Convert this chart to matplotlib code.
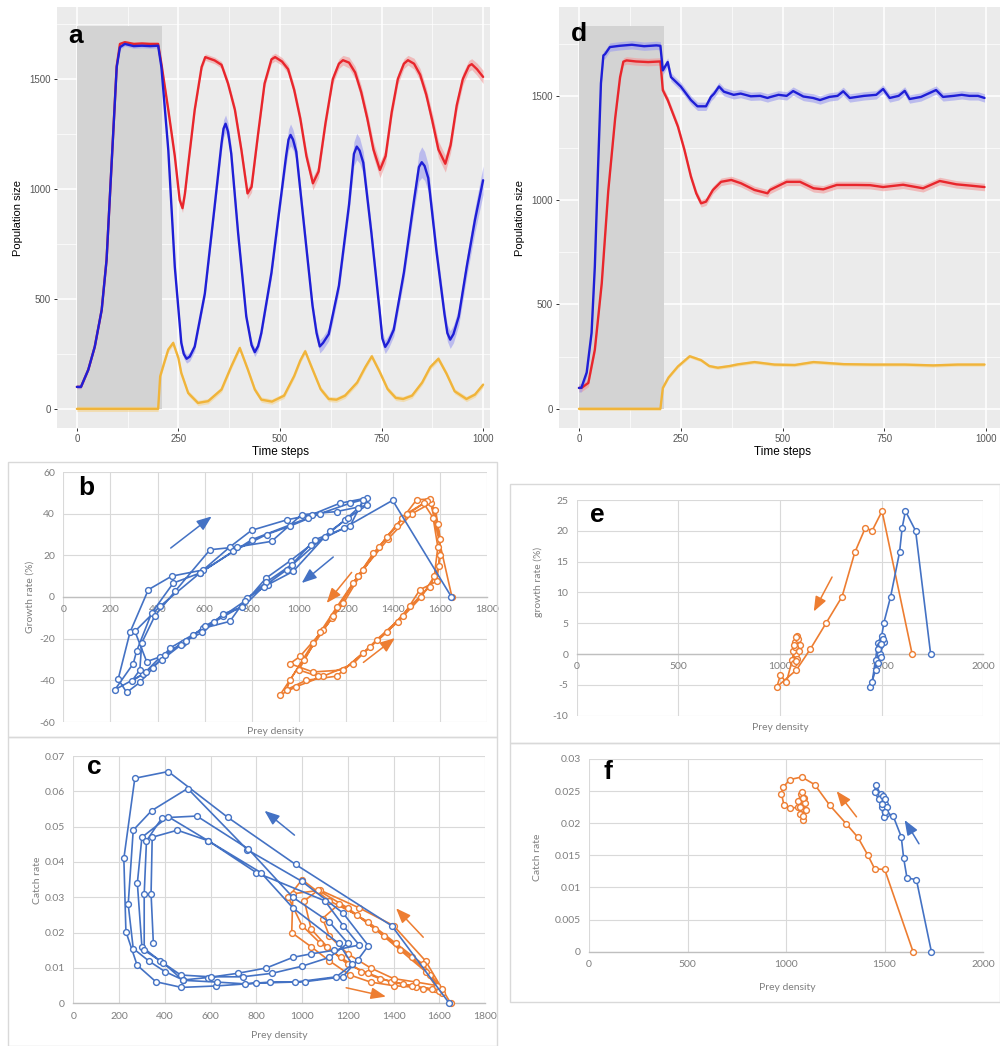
import matplotlib
matplotlib.use("Agg")
import matplotlib.pyplot as plt
from matplotlib.patches import Rectangle
import numpy as np

W, H = 1000, 1046

# ---------------- time series, panel a (oscillating) ----------------
a_t_blue = [0, 10, 28, 44, 61, 73, 85, 98, 106, 118, 140, 160, 180, 200, 208, 225, 241, 257, 263, 270,
            278, 290, 315, 339, 356, 361, 366, 372, 380, 397, 417, 430, 438, 446, 454, 479, 500, 515,
            521, 526, 532, 540, 560, 580, 590, 598, 606, 620, 645, 670, 682, 689, 696, 705, 725, 745,
            752, 759, 767, 780, 805, 830, 842, 849, 856, 865, 885, 905, 912, 919, 927, 940, 960, 980,
            1000]
a_blue = [100, 100, 178, 283, 450, 677, 1100, 1555, 1645, 1660, 1650, 1652, 1650, 1652, 1555, 1177,
          646, 300, 250, 228, 238, 283, 525, 920, 1207, 1275, 1297, 1262, 1160, 797, 420, 290, 258,
          285, 345, 620, 930, 1150, 1225, 1246, 1225, 1170, 820, 470, 345, 284, 300, 340, 560, 930,
          1160, 1193, 1175, 1120, 800, 450, 320, 282, 305, 360, 620, 950, 1100, 1122, 1105, 1050,
          720, 430, 345, 315, 340, 420, 650, 860, 1040]
a_blue_sd = [8, 8, 8, 8, 8, 8, 10, 10, 10, 10, 10, 10, 10, 10, 15, 20, 20, 20, 20, 20, 20, 20, 20,
             25, 35, 40, 40, 38, 35, 25, 20, 20, 20, 20, 20, 25, 30, 40, 48, 50, 46, 40, 30, 25, 28,
             30, 30, 30, 30, 40, 55, 60, 58, 50, 35, 30, 30, 30, 30, 30, 35, 45, 65, 70, 66, 60, 40,
             35, 38, 40, 40, 40, 45, 55, 65]

a_t_red = [0, 10, 28, 44, 61, 73, 85, 98, 106, 118, 140, 160, 180, 200, 208, 225, 241, 253, 260, 266,
           274, 290, 307, 316, 339, 356, 372, 389, 405, 420, 430, 446, 462, 479, 488, 505, 520, 535,
           550, 565, 581, 595, 612, 630, 645, 655, 670, 685, 700, 715, 730, 746, 760, 775, 790, 805,
           815, 830, 845, 860, 875, 890, 907, 920, 935, 950, 965, 972, 985, 1000]
a_red = [100, 100, 178, 283, 450, 677, 1100, 1560, 1660, 1668, 1660, 1662, 1660, 1660, 1570, 1360,
         1150, 950, 913, 980, 1110, 1360, 1555, 1600, 1585, 1565, 1480, 1360, 1177, 980, 1010, 1250,
         1480, 1590, 1600, 1580, 1545, 1450, 1320, 1150, 1026, 1080, 1300, 1500, 1570, 1586, 1575,
         1530, 1440, 1320, 1180, 1087, 1150, 1350, 1500, 1570, 1586, 1570, 1520, 1430, 1310, 1180,
         1115, 1200, 1380, 1500, 1560, 1568, 1545, 1510]
a_red_sd = [8] * 14 + [12, 15, 15, 18, 20, 20, 18, 15, 15, 15, 15, 15, 18, 20, 22, 25, 25, 20, 18,
                       18, 18, 18, 20, 22, 25, 28, 30, 28, 25, 22, 22, 22, 25, 28, 30, 32, 35, 35,
                       32, 28, 25, 22, 22, 25, 28, 30, 35, 38, 38, 35, 30, 28, 25, 25, 28, 30]

a_t_orange = [0, 200, 205, 215, 225, 237, 250, 257, 274, 298, 323, 356, 380, 401, 421, 438, 454,
              480, 510, 535, 550, 562, 580, 600, 620, 639, 660, 690, 710, 726, 745, 765, 785, 803,
              825, 850, 870, 890, 910, 930, 959, 980, 1000]
a_orange = [0, 0, 148, 210, 270, 300, 230, 163, 72, 27, 35, 88, 193, 277, 178, 88, 42, 33, 60, 150,
            220, 262, 180, 90, 45, 42, 60, 120, 190, 239, 170, 90, 50, 45, 60, 120, 190, 228, 160,
            80, 45, 65, 110]

# ---------------- time series, panel d (stable) ----------------
d_t_blue = [0, 6, 19, 31, 39, 47, 54, 60, 64, 76, 100, 130, 160, 190, 200, 206, 218, 226, 250, 275,
            291, 312, 324, 332, 344, 356, 380, 397, 422, 445, 463, 469, 490, 510, 526, 551, 575, 592,
            615, 635, 649, 665, 700, 730, 747, 763, 785, 800, 812, 840, 877, 894, 920, 940, 959, 980,
            996]
d_blue = [100, 101, 174, 364, 682, 1160, 1560, 1694, 1700, 1734, 1740, 1745, 1738, 1742, 1740, 1622,
          1662, 1590, 1545, 1480, 1450, 1450, 1495, 1511, 1545, 1520, 1505, 1511, 1498, 1500, 1490,
          1494, 1505, 1500, 1523, 1497, 1490, 1480, 1495, 1500, 1522, 1490, 1500, 1505, 1533, 1490,
          1500, 1524, 1485, 1495, 1528, 1495, 1500, 1505, 1500, 1500, 1490]

d_t_red = [0, 6, 23, 39, 56, 72, 89, 101, 109, 117, 140, 170, 200, 206, 218, 243, 259, 275, 288, 300,
           312, 329, 349, 374, 398, 431, 463, 469, 510, 543, 576, 600, 633, 680, 715, 747, 796, 845,
           886, 927, 960, 996]
d_red = [100, 100, 124, 283, 602, 1045, 1394, 1590, 1664, 1670, 1665, 1662, 1665, 1527, 1480, 1353,
         1241, 1113, 1033, 985, 993, 1049, 1088, 1097, 1081, 1049, 1033, 1049, 1088, 1088, 1057,
         1052, 1073, 1073, 1072, 1063, 1074, 1057, 1092, 1076, 1070, 1063]

d_t_orange = [0, 200, 206, 220, 243, 272, 300, 320, 341, 370, 390, 431, 480, 530, 576, 650, 720, 800,
              870, 930, 996]
d_orange = [0, 0, 100, 150, 203, 252, 233, 205, 197, 205, 213, 224, 212, 210, 224, 214, 212, 212,
            208, 212, 212]

HARVEST_END = 210
TIME_TICKS = [0, 250, 500, 750, 1000]
POP_TICKS = [0, 500, 1000, 1500]

# ---------------- panel b: growth rate vs prey density ----------------
b_blue_x = [1648, 1398, 1190, 1050, 965, 860, 757, 640, 552, 453, 382, 325, 269, 233, 283, 361, 460,
            594, 707, 799, 948, 1054, 1174, 1288, 1252, 1196, 1111, 976, 870, 778, 707, 594, 509,
            410, 340, 219, 297, 311, 375, 467, 580, 722, 863, 962, 1090, 1217, 1274, 1217, 1068,
            969, 860, 770, 680, 600, 500, 420, 350, 290, 325, 333, 389, 474, 623, 736, 884, 1012,
            1160, 1288, 1210, 1132, 948, 850, 760, 680, 590, 520, 430, 354, 304, 410, 580, 800, 1040]
b_blue_y = [0, 46.4, 33, 25, 17.5, 9, -4.5, -12, -18, -24.5, -34, -41, -45.8, -39.4, -17, 3.5, 10,
            13, 24, 32, 37, 39.5, 45, 47.5, 42.7, 37, 29, 12.3, 6, -0.5, -11.7, -15, -22, -29, -37,
            -44.5, -32, -26, -7.7, 6.7, 11.5, 22, 30, 34, 40, 45, 46.7, 34, 27.5, 15.5, 7, -2, -9,
            -14, -23, -30, -36, -40.5, -35, -22, -9, 2.7, 22.7, 24, 26.7, 39.5, 41, 44, 38, 31.5,
            13, 5, -5, -8, -17, -21, -28, -31, -16.5, -4.5, 11.5, 27.5, 38]

b_orange_x = [1650, 1560, 1480, 1380, 1250, 1140, 1020, 920, 990, 1104, 1231, 1330, 1443, 1514,
              1585, 1600, 1590, 1555, 1500, 1415, 1316, 1231, 1146, 1061, 962, 948, 1030, 1160,
              1273, 1373, 1472, 1556, 1595, 1600, 1580, 1545, 1457, 1373, 1274, 1189, 1104, 1005,
              962, 1060, 1189, 1300, 1420, 1520, 1575, 1590, 1570, 1530, 1440, 1340, 1250, 1160,
              1090, 1000, 1080]
b_orange_y = [0, 45, 40, 28, 10, -10, -30, -47, -43, -38, -32, -20.5, -9, 3.5, 7.5, 20, 35, 47,
              46.7, 34, 21, 6.7, -9.3, -22, -40, -44.5, -40, -38, -27, -17, -4.5, 5, 15, 28, 42,
              46, 40, 29, 13, -3, -15.7, -28.5, -32, -36, -35, -24, -12, 0, 10, 24, 38, 45, 38, 24,
              10, -5, -17, -35, -38]

# ---------------- panel c: catch rate vs prey density ----------------
c_blue_x = [1644, 1393, 972, 676, 415, 269, 221, 230, 279, 361, 473, 622, 800, 1011, 1178, 1244,
            1290, 1180, 1000, 760, 500, 342, 262, 240, 262, 330, 400, 480, 589, 720, 844, 960, 1040,
            1140, 1250, 1180, 1100, 800, 590, 415, 300, 280, 300, 380, 470, 600, 740, 870, 1000,
            1120, 1200, 1120, 960, 765, 540, 388, 320, 310, 310, 392, 480, 630, 750, 860, 970, 1150,
            1220, 1160, 960, 820, 590, 455, 345, 340, 350]
c_blue_y = [0, 0.0219, 0.0393, 0.0526, 0.0656, 0.0637, 0.041, 0.0203, 0.0108, 0.0061, 0.0045,
            0.0049, 0.0057, 0.0061, 0.0075, 0.0123, 0.0163, 0.0255, 0.0345, 0.0435, 0.0608, 0.0545,
            0.049, 0.028, 0.0155, 0.012, 0.009, 0.0066, 0.0073, 0.0085, 0.01, 0.013, 0.014, 0.015,
            0.0165, 0.022, 0.029, 0.037, 0.046, 0.0528, 0.047, 0.034, 0.016, 0.012, 0.008, 0.0075,
            0.0075, 0.0085, 0.0105, 0.013, 0.017, 0.023, 0.03, 0.0437, 0.053, 0.0525, 0.046, 0.031,
            0.015, 0.0115, 0.0065, 0.006, 0.0055, 0.006, 0.006, 0.0075, 0.011, 0.017, 0.027, 0.037,
            0.046, 0.049, 0.047, 0.031, 0.017]

c_orange_x = [1650, 1540, 1400, 1250, 1080, 960, 955, 1040, 1120, 1210, 1300, 1400, 1500, 1580,
              1610, 1560, 1480, 1360, 1240, 1120, 1000, 940, 1000, 1080, 1170, 1260, 1340, 1440,
              1530, 1600, 1540, 1430, 1320, 1200, 1070, 1010, 1040, 1110, 1200, 1290, 1390, 1480,
              1570, 1610, 1530, 1410, 1290, 1160, 1090, 1120, 1200, 1300, 1400, 1500, 1590]
c_orange_y = [0, 0.012, 0.022, 0.027, 0.032, 0.031, 0.02, 0.016, 0.012, 0.008, 0.006, 0.005, 0.0045,
              0.004, 0.003, 0.008, 0.013, 0.019, 0.025, 0.029, 0.035, 0.03, 0.022, 0.017, 0.013,
              0.009, 0.007, 0.0055, 0.004, 0.0035, 0.009, 0.015, 0.021, 0.027, 0.032, 0.029, 0.021,
              0.016, 0.011, 0.0085, 0.006, 0.005, 0.004, 0.004, 0.011, 0.017, 0.023, 0.028, 0.024,
              0.019, 0.014, 0.01, 0.007, 0.006, 0.005]

# ---------------- panel e: growth rate vs prey density (stable) ----------------
e_orange_x = [1650, 1502, 1453, 1420, 1368, 1305, 1228, 1149, 1080, 985, 1002, 1031, 1060, 1075,
              1085, 1095, 1080, 1070, 1065, 1090, 1100, 1085, 1075, 1080, 1092, 1078, 1070]
e_orange_y = [0, 23.2, 20, 20.5, 16.5, 9.3, 5.1, 0.8, -2.6, -5.3, -3.4, -4.6, -1, 2, 3, 1.5, 0,
              -1.5, 0.5, 2.5, 1.5, -0.8, 1.2, 2.8, 0.5, -1.2, 1.5]
e_blue_x = [1741, 1667, 1617, 1601, 1588, 1544, 1511, 1494, 1470, 1445, 1453, 1470, 1480, 1500,
            1510, 1490, 1480, 1492, 1505, 1495, 1482, 1498]
e_blue_y = [0, 20, 23.2, 20.5, 16.5, 9.3, 5.1, 1.7, -2.6, -5.3, -4.5, -1, 1.8, 3, 2, 0, -1.5, 1.5,
            2.5, -0.5, 0.8, 1.7]

# ---------------- panel f: catch rate vs prey density (stable) ----------------
f_orange_x = [1645, 1501, 1450, 1416, 1365, 1306, 1222, 1146, 1080, 1020, 985, 977, 989, 1018, 1060,
              1075, 1090, 1100, 1085, 1070, 1062, 1080, 1095, 1088, 1072, 1085]
f_orange_y = [0, 0.0128, 0.0129, 0.015, 0.0178, 0.0199, 0.0228, 0.026, 0.0272, 0.0268, 0.0256,
              0.0246, 0.0229, 0.0223, 0.0225, 0.0245, 0.024, 0.022, 0.0205, 0.0215, 0.0235, 0.0248,
              0.0232, 0.0212, 0.0225, 0.024]
f_blue_x = [1738, 1662, 1614, 1597, 1585, 1543, 1501, 1480, 1455, 1450, 1470, 1490, 1505, 1510,
            1495, 1485, 1500, 1515, 1500, 1488]
f_blue_y = [0, 0.0112, 0.0115, 0.0146, 0.0179, 0.0212, 0.0217, 0.0245, 0.026, 0.0248, 0.0238,
            0.0242, 0.023, 0.0215, 0.021, 0.0225, 0.0238, 0.0225, 0.0218, 0.023]

# direction arrows: (x_start, y_start, x_end, y_end, colour key)
b_arrows = [(456, 23.5, 630, 38.7, "blue"), (1146, 19.2, 1012, 6.7, "blue"),
            (1224, 11.8, 1118, -2.9, "orange"), (1274, -31.4, 1408, -19.7, "orange")]
c_arrows = [(967, 0.0476, 836, 0.0545, "blue"), (207, 0.009, 393, -0.0002, "blue"),
            (1530, 0.0187, 1411, 0.0269, "orange"), (1193, 0.0044, 1367, 0.0019, "orange")]
e_arrows = [(1256, 12.5, 1166, 6.9, "orange")]
f_arrows = [(1358, 0.021, 1257, 0.025, "orange"), (1675, 0.0168, 1602, 0.0205, "blue")]

GG_RED, GG_BLUE, GG_ORANGE = "#e8262c", "#1f1fd6", "#f0b43a"
XL = {"blue": "#4472c4", "orange": "#ed7d31"}
GG_FONT = "Liberation Sans"
XL_FONT = "Lato"

fig = plt.figure(figsize=(W / 100, H / 100), dpi=100)


def px_axes(l, t, r, b):
    return fig.add_axes([l / W, 1 - b / H, (r - l) / W, (b - t) / H])


def ftext(x, y, s, **kw):
    fig.text(x / W, 1 - y / H, s, **kw)


def gg_panel(box, xlim, ylim, shade_top, series, letter, letter_xy, title_x):
    ax = px_axes(*box)
    ax.set_facecolor("#ebebeb")
    ax.set_xlim(*xlim)
    ax.set_ylim(*ylim)
    for s in ax.spines.values():
        s.set_visible(False)
    ax.set_xticks(TIME_TICKS)
    ax.set_xticks([125, 375, 625, 875], minor=True)
    ax.set_yticks(POP_TICKS)
    ax.set_yticks([250, 750, 1250, 1750], minor=True)
    ax.grid(True, which="major", color="white", lw=1.1, zorder=0)
    ax.grid(True, which="minor", color="white", lw=0.5, zorder=0)
    ax.set_axisbelow(True)
    ax.tick_params(which="major", length=2.5, width=0.7, color="#333333",
                   labelsize=7, labelcolor="#555555", pad=2)
    ax.tick_params(which="minor", length=0)
    for lab in ax.get_xticklabels() + ax.get_yticklabels():
        lab.set_fontfamily(GG_FONT)
    ax.add_patch(Rectangle((0, 0), HARVEST_END, shade_top, color="#d3d3d3", zorder=1, lw=0))
    for t, v, sd, col, band in series:
        t = np.asarray(t)
        v = np.asarray(v, dtype=float)
        sd = np.asarray(sd, dtype=float)
        ax.fill_between(t, v - sd, v + sd, color=band, alpha=0.6, lw=0, zorder=2)
        ax.plot(t, v, color=col, lw=1.7, zorder=3, solid_joinstyle="round",
                solid_capstyle="round")
    ftext(letter_xy[0], letter_xy[1], letter, fontsize=19, fontweight="bold",
          family=GG_FONT, va="center", ha="left")
    ftext(title_x, 452, "Time steps", fontsize=8.5, family=GG_FONT, ha="center", va="center")
    return ax


# panel a
ax_a = gg_panel((57, 7, 490, 428), (-49, 1017), (-87, 1828), 1741,
                [(a_t_orange, a_orange, [12] * len(a_orange), GG_ORANGE, "#f5d590"),
                 (a_t_red, a_red, a_red_sd, GG_RED, "#f29a9a"),
                 (a_t_blue, a_blue, a_blue_sd, GG_BLUE, "#9c9cf0")],
                "a", (68, 36), 280)
ftext(18, 218, "Population size", rotation=90, fontsize=8, family=GG_FONT, ha="center", va="center")

# panel d
ax_d = gg_panel((559, 7, 1000, 428), (-49, 1034), (-92, 1926), 1834,
                [(d_t_orange, d_orange, [8] * len(d_orange), GG_ORANGE, "#f5d590"),
                 (d_t_red, d_red, [18] * len(d_red), GG_RED, "#f29a9a"),
                 (d_t_blue, d_blue, [20] * len(d_blue), GG_BLUE, "#9c9cf0")],
                "d", (571, 34), 783)
ftext(520, 218, "Population size", rotation=90, fontsize=8, family=GG_FONT, ha="center", va="center")


# ---------------- spreadsheet-style panels ----------------
def xl_panel(box, xlim, ylim, xticks, yticks, ytick_fmt, cross_zero):
    ax = px_axes(*box)
    ax.set_xlim(*xlim)
    ax.set_ylim(*ylim)
    ax.set_xticks(xticks)
    ax.set_yticks(yticks)
    ax.set_yticklabels([ytick_fmt(v) for v in yticks])
    ax.grid(True, color="#d9d9d9", lw=0.8, zorder=0)
    ax.set_axisbelow(True)
    for k in ("top", "right", "left"):
        ax.spines[k].set_visible(False)
    ax.spines["bottom"].set_color("#bfbfbf")
    ax.spines["bottom"].set_linewidth(1.0)
    if cross_zero:
        ax.spines["bottom"].set_position(("data", 0))
    ax.tick_params(length=0, labelsize=7.5, labelcolor="#7f7f7f", pad=6)
    for lab in ax.get_xticklabels() + ax.get_yticklabels():
        lab.set_fontfamily(XL_FONT)
    ax.patch.set_alpha(0)
    return ax


def xl_series(ax, x, y, key):
    ax.plot(x, y, color=XL[key], lw=1.2, marker="o", ms=4.2, mfc="white",
            mec=XL[key], mew=1.0, zorder=3, clip_on=False)


def xl_arrows(ax, arrows):
    for x0, y0, x1, y1, key in arrows:
        ax.annotate("", xy=(x1, y1), xytext=(x0, y0),
                    arrowprops=dict(arrowstyle="-|>,head_length=0.9,head_width=0.35",
                                    color=XL[key], lw=1.1, shrinkA=0, shrinkB=0), zorder=4)


def box_outline(l, t, r, b):
    fig.add_artist(Rectangle((l / W, 1 - b / H), (r - l) / W, (b - t) / H,
                             transform=fig.transFigure, fill=False,
                             edgecolor="#d9d9d9", lw=1.0))


box_outline(8, 462, 497, 737)
box_outline(8, 737, 497, 1046)
box_outline(510, 484, 1000, 743)
box_outline(510, 743, 1000, 1002)

# panel b
ax_b = xl_panel((63.3, 472, 487.3, 722), (0, 1800), (-60, 60), range(0, 1801, 200),
                range(-60, 61, 20), lambda v: f"{v}", True)
xl_series(ax_b, b_orange_x, b_orange_y, "orange")
xl_series(ax_b, b_blue_x, b_blue_y, "blue")
xl_arrows(ax_b, b_arrows)
ftext(78, 488, "b", fontsize=19, fontweight="bold", family=GG_FONT, va="center")
ftext(275, 731, "Prey density", fontsize=7.5, color="#7f7f7f", family=XL_FONT, ha="center", va="center")
ftext(30, 597, "Growth rate (%)", rotation=90, fontsize=7.5, color="#7f7f7f", family=XL_FONT,
      ha="center", va="center")

# panel c
ax_c = xl_panel((73.3, 756, 485, 1003.3), (0, 1800), (0, 0.07), range(0, 1801, 200),
                [0, 0.01, 0.02, 0.03, 0.04, 0.05, 0.06, 0.07], lambda v: f"{v:g}", False)
xl_series(ax_c, c_orange_x, c_orange_y, "orange")
xl_series(ax_c, c_blue_x, c_blue_y, "blue")
xl_arrows(ax_c, c_arrows)
ftext(87, 767, "c", fontsize=19, fontweight="bold", family=GG_FONT, va="center")
ftext(279, 1035, "Prey density", fontsize=7.5, color="#7f7f7f", family=XL_FONT, ha="center", va="center")
ftext(37, 880, "Catch rate", rotation=90, fontsize=7.5, color="#7f7f7f", family=XL_FONT,
      ha="center", va="center")

# panel e
ax_e = xl_panel((576.7, 500, 983.3, 715.7), (0, 2000), (-10, 25), range(0, 2001, 500),
                range(-10, 26, 5), lambda v: f"{v}", True)
xl_series(ax_e, e_orange_x, e_orange_y, "orange")
xl_series(ax_e, e_blue_x, e_blue_y, "blue")
xl_arrows(ax_e, e_arrows)
ftext(590, 515, "e", fontsize=19, fontweight="bold", family=GG_FONT, va="center")
ftext(780, 727, "Prey density", fontsize=7.5, color="#7f7f7f", family=XL_FONT, ha="center", va="center")
ftext(538, 582, "growth rate (%)", rotation=90, fontsize=7.5, color="#7f7f7f", family=XL_FONT,
      ha="center", va="center")

# panel f
ax_f = xl_panel((589, 759, 983, 951.7), (0, 2000), (0, 0.03), range(0, 2001, 500),
                [0, 0.005, 0.01, 0.015, 0.02, 0.025, 0.03], lambda v: f"{v:g}", False)
xl_series(ax_f, f_orange_x, f_orange_y, "orange")
xl_series(ax_f, f_blue_x, f_blue_y, "blue")
xl_arrows(ax_f, f_arrows)
ftext(603, 772, "f", fontsize=19, fontweight="bold", family=GG_FONT, va="center")
ftext(787, 988, "Prey density", fontsize=7.5, color="#7f7f7f", family=XL_FONT, ha="center", va="center")
ftext(538, 857, "Catch rate", rotation=90, fontsize=7.5, color="#7f7f7f", family=XL_FONT,
      ha="center", va="center")

fig.savefig("out.png", dpi=100)
